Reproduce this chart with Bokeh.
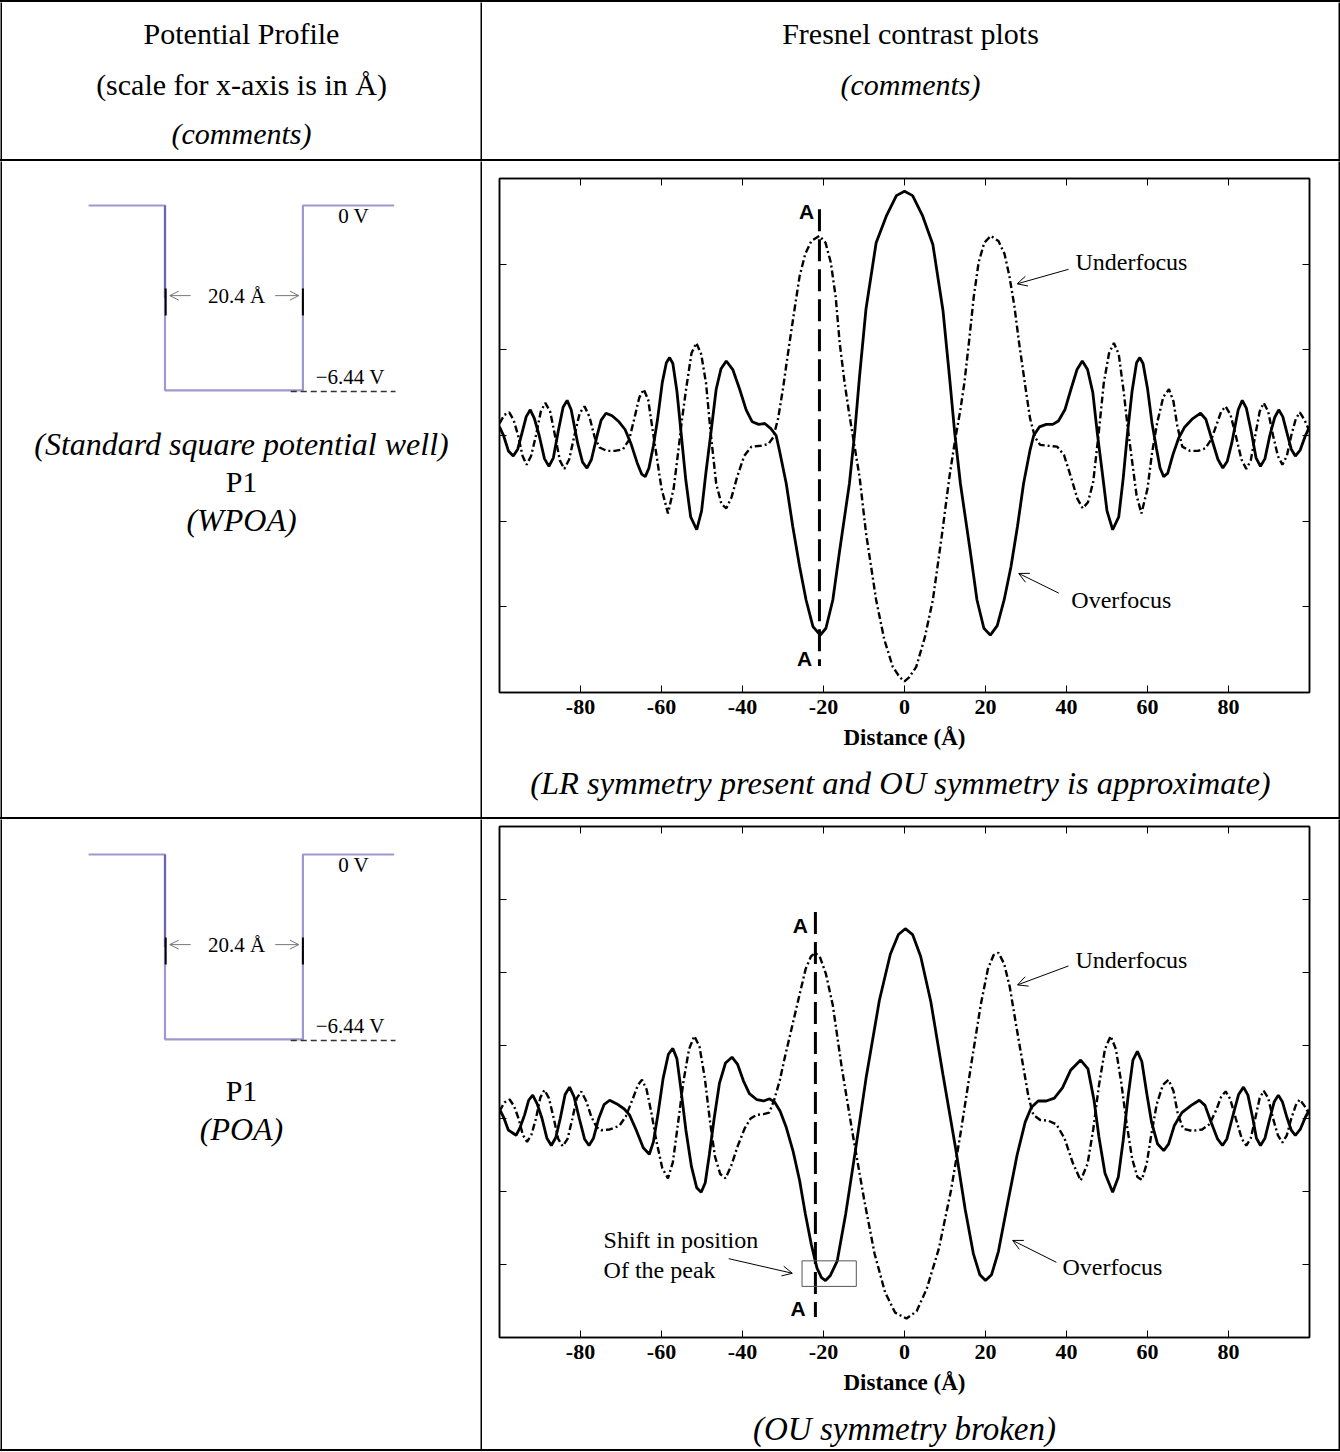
from bokeh.plotting import figure
from bokeh.layouts import column, row
from bokeh.models import Range1d, LinearAxis, FixedTicker, Arrow, OpenHead, Label, BoxAnnotation, Div
from bokeh.embed import file_html
from bokeh.resources import INLINE
from bokeh.core.properties import value

SERIF = "Liberation Serif"
SANS = "Liberation Sans"

# ---------------- data ----------------
X_TICKS = [-80, -60, -40, -20, 0, 20, 40, 60, 80]
X_TICK_LABELS = ["-80", "-60", "-40", "-20", "0", "20", "40", "60", "80"]
X_RANGE = (-100, 100)
Y_RANGE_1 = (-3, 3)
Y_RANGE_2 = (-3, 4)
Y_TICKS_1 = [-2, -1, 0, 1, 2]
Y_TICKS_2 = [-2, -1, 0, 1, 2, 3]

# potential profile (x in Angstrom, V in volt)
WELL_WIDTH = 20.4
WELL_DEPTH = -6.44
WELL_X = [-21.5, -10.2, -10.2, 10.2, 10.2, 23.7]
WELL_V = [0.0, 0.0, -6.44, -6.44, 0.0, 0.0]

# Row 1: WPOA  (solid = overfocus, dash-dot = underfocus)
P1_OVER_X = [-100, -99, -97.8, -96.6, -95.5, -94.5, -93.4, -92.4, -91.4, -90.2, -88.9, -87.8, -86.7, -85.5,
             -84.3, -83.3, -82.3, -80.7, -79.5, -78.4, -77.3, -76.0, -74.9, -73.7, -72.2, -70.5, -69.0,
             -67.5, -66.0, -64.9, -64.0, -63.1, -62.0, -61.0, -59.8, -58.8, -58.0, -57.2, -56.2, -55.1,
             -54.0, -52.8, -51.3, -50.1, -49.0, -47.8, -46.5, -45.3, -44.0, -42.4, -40.7, -39.1, -37.6,
             -36.0, -34.5, -33.0, -31.7, -30.9, -29.2, -27.6, -25.9, -24.3, -22.6, -20.8, -19.4, -17.7,
             -16.0, -13.6, -12.3, -11.1, -9.5, -7.0, -4.5, -2.0, 0.0, 2.0, 4.5, 7.0, 9.5, 11.1, 12.4,
             13.8, 16.2, 17.9, 19.6, 21.2, 22.9, 24.6, 26.3, 27.9, 29.4, 31.0, 31.9, 33.3, 35.0, 36.6,
             38.0, 39.6, 41.1, 42.6, 43.9, 45.2, 46.5, 47.6, 48.8, 50.0, 51.4, 52.9, 54.0, 55.0, 56.2,
             57.3, 58.1, 58.9, 60.0, 61.1, 62.2, 63.1, 64.0, 65.0, 66.3, 67.7, 69.2, 71.0, 73.1, 74.4,
             75.6, 77.4, 78.6, 79.7, 80.8, 82.4, 83.4, 84.4, 85.6, 86.8, 87.9, 89.0, 90.2, 91.4, 92.4,
             93.4, 94.5, 95.5, 96.5, 97.7, 99.0, 100]
P1_OVER_Y = [0.10, 0.0, -0.18, -0.24, -0.16, 0.02, 0.22, 0.30, 0.20, 0.0, -0.27, -0.36, -0.26, 0.05,
             0.33, 0.41, 0.30, -0.09, -0.31, -0.38, -0.28, -0.02, 0.18, 0.26, 0.23, 0.16, 0.07,
             -0.10, -0.32, -0.45, -0.48, -0.38, -0.12, 0.18, 0.62, 0.85, 0.91, 0.84, 0.52, 0.0,
             -0.52, -0.95, -1.10, -0.88, -0.42, 0.03, 0.54, 0.78, 0.87, 0.77, 0.54, 0.30, 0.16,
             0.13, 0.14, 0.08, 0.0, -0.17, -0.56, -1.06, -1.53, -1.92, -2.23, -2.33, -2.25, -1.92,
             -1.34, -0.56, 0.03, 0.69, 1.48, 2.25, 2.56, 2.80, 2.85, 2.80, 2.56, 2.23, 1.46, 0.69, 0.03,
             -0.56, -1.34, -1.92, -2.25, -2.33, -2.22, -1.92, -1.53, -1.06, -0.56, -0.17, 0.0, 0.10, 0.13, 0.13,
             0.17, 0.30, 0.54, 0.77, 0.87, 0.77, 0.50, 0.03, -0.42, -0.88, -1.10, -0.95, -0.50, 0.0, 0.52,
             0.85, 0.91, 0.84, 0.55, 0.15, -0.15, -0.38, -0.48, -0.44, -0.22, -0.03, 0.10, 0.19, 0.26, 0.19,
             0.0, -0.28, -0.38, -0.30, -0.09, 0.30, 0.41, 0.32, 0.05, -0.26, -0.36, -0.27, 0.0, 0.21, 0.30,
             0.22, 0.02, -0.16, -0.24, -0.17, 0.0, 0.10]

P1_UNDER_X = [-100, -98.8, -97.6, -96.5, -95.4, -94.3, -93.3, -92.2, -91.0, -89.8, -88.7, -87.5, -86.3,
              -85.1, -84.0, -82.8, -81.5, -80.2, -79.0, -77.8, -76.5, -75.3, -73.5, -71.5, -69.5, -68.0,
              -66.8, -65.5, -64.4, -63.3, -62.3, -61.3, -60.0, -58.4, -57.0, -55.9, -54.9, -53.9, -52.6,
              -51.4, -50.2, -49.0, -47.9, -46.5, -45.2, -44.0, -42.7, -41.3, -39.6, -37.8, -35.5, -33.6,
              -32.4, -31.2, -30.0, -28.4, -27.0, -25.9, -24.5, -23.0, -21.0, -19.5, -18.2, -17.0, -16.0,
              -14.8, -13.8, -12.6, -11.1, -9.5, -7.0, -5.0, -2.9, -1.2, 0.0, 1.2, 2.9, 5.0, 7.0, 9.3,
              11.1, 12.5, 13.8, 14.8, 15.9, 17.1, 18.3, 19.7, 21.3, 23.2, 24.7, 25.9, 27.1, 28.3, 29.9,
              31.0, 32.2, 33.5, 35.5, 37.7, 39.4, 41.2, 42.7, 44.0, 45.3, 46.6, 48.0, 49.2, 50.5, 51.7,
              52.9, 54.1, 55.1, 56.2, 57.3, 58.5, 60.0, 61.1, 62.4, 63.9, 65.3, 66.4, 67.4, 68.6, 70.5,
              72.5, 74.3, 75.8, 77.0, 78.2, 79.3, 80.5, 81.8, 83.2, 84.4, 85.5, 86.6, 87.7, 88.7, 89.8,
              91.0, 92.2, 93.3, 94.4, 95.5, 96.6, 97.6, 98.8, 100]
P1_UNDER_Y = [0.14, 0.24, 0.27, 0.18, 0.0, -0.24, -0.34, -0.24, 0.0, 0.28, 0.38, 0.28, 0.0,
              -0.29, -0.39, -0.28, 0.0, 0.26, 0.34, 0.22, -0.02, -0.14, -0.18, -0.18, -0.16, -0.05,
              0.18, 0.44, 0.54, 0.42, 0.10, -0.21, -0.62, -0.91, -0.62, -0.20, 0.20, 0.55, 0.96,
              1.08, 0.95, 0.61, 0.05, -0.56, -0.80, -0.85, -0.72, -0.48, -0.24, -0.13, -0.12, -0.10,
              -0.02, 0.20, 0.55, 1.08, 1.52, 1.86, 2.12, 2.27, 2.33, 2.25, 2.02, 1.62, 1.08,
              0.62, 0.30, -0.05, -0.48, -1.14, -1.92, -2.38, -2.70, -2.82, -2.87, -2.82, -2.70, -2.36, -1.92, -1.14,
              -0.48, -0.05, 0.30, 0.62, 1.08, 1.62, 2.02, 2.25, 2.33, 2.27, 2.12, 1.86, 1.52, 1.08, 0.55,
              0.20, -0.02, -0.11, -0.12, -0.13, -0.23, -0.50, -0.74, -0.85, -0.78, -0.54, 0.05, 0.61, 0.96, 1.08,
              0.95, 0.52, 0.10, -0.30, -0.70, -0.91, -0.62, -0.21, 0.15, 0.45, 0.54, 0.40, 0.10, -0.13, -0.18,
              -0.18, -0.15, -0.04, 0.12, 0.28, 0.34, 0.24, 0.0, -0.28, -0.39, -0.29, 0.0, 0.28, 0.38, 0.28,
              0.0, -0.24, -0.34, -0.24, 0.0, 0.19, 0.27, 0.18, 0.05]

# Row 2: POA
P2_OVER_X = [-100, -99, -97.8, -95.9, -94.9, -93.8, -92.8, -91.8, -90.7, -89.5, -88.3, -87.2, -86.1, -85.0,
             -83.8, -82.7, -81.6, -80.3, -79.0, -77.9, -76.8, -75.5, -74.2, -72.8, -71.0, -69.2, -67.9,
             -66.3, -64.5, -63.0, -62.0, -60.9, -59.6, -58.3, -57.2, -56.2, -55.2, -54.0, -52.6, -51.3,
             -50.2, -49.2, -48.2, -47.0, -45.7, -44.2, -42.6, -41.2, -39.8, -38.3, -36.5, -34.8, -33.3,
             -32.0, -30.7, -29.2, -27.5, -25.9, -24.5, -23.0, -21.6, -20.5, -19.5, -18.3, -16.6, -14.5,
             -12.1, -9.5, -6.2, -3.5, -1.5, 0.2, 2.0, 4.0, 6.5, 9.5, 12.6, 15.0, 17.0, 18.6, 20.0, 21.5,
             23.2, 25.5, 27.8, 29.8, 31.3, 33.0, 35.0, 37.0, 39.0, 41.0, 43.5, 45.3, 46.8, 48.0, 49.5,
             51.4, 52.8, 54.0, 55.2, 56.4, 57.5, 58.6, 59.8, 61.0, 62.5, 64.0, 65.2, 66.6, 68.5, 70.8,
             72.8, 74.2, 75.5, 77.3, 78.5, 79.6, 80.9, 82.5, 83.7, 84.8, 86.0, 86.9, 87.9, 89.0, 90.2,
             91.3, 92.3, 93.3, 94.4, 95.5, 96.5, 97.7, 99.0, 100]
P2_OVER_Y = [0.13, 0.02, -0.16, -0.23, -0.12, 0.05, 0.25, 0.32, 0.20, 0.0, -0.27, -0.37, -0.26, 0.0,
             0.33, 0.43, 0.30, 0.0, -0.28, -0.37, -0.27, 0.0, 0.19, 0.25, 0.20, 0.13, 0.05,
             -0.15, -0.40, -0.49, -0.32, 0.05, 0.55, 0.88, 0.96, 0.82, 0.40, -0.15, -0.66, -0.95,
             -1.01, -0.88, -0.50, 0.0, 0.48, 0.76, 0.84, 0.74, 0.52, 0.34, 0.26, 0.24, 0.27,
             0.22, 0.10, -0.12, -0.45, -0.85, -1.30, -1.73, -2.05, -2.18, -2.22, -2.15, -1.95, -1.30,
             -0.43, 0.55, 1.62, 2.25, 2.52, 2.60, 2.52, 2.22, 1.60, 0.60, -0.40, -1.25, -1.85, -2.14, -2.22, -2.14,
             -1.82, -1.15, -0.50, -0.05, 0.15, 0.24, 0.24, 0.28, 0.42, 0.66, 0.80, 0.68, 0.25, -0.25, -0.75,
             -1.01, -0.80, -0.30, 0.30, 0.80, 0.92, 0.78, 0.35, -0.05, -0.35, -0.44, -0.35, -0.10, 0.08, 0.18,
             0.25, 0.18, -0.02, -0.28, -0.37, -0.28, 0.0, 0.33, 0.43, 0.32, 0.0, -0.27, -0.37, -0.27, 0.0,
             0.23, 0.32, 0.23, 0.02, -0.16, -0.23, -0.15, 0.02, 0.12]

P2_UNDER_X = [-100, -98.8, -97.5, -96.4, -95.3, -94.2, -93.2, -92.1, -91.0, -89.9, -88.9, -87.8, -86.6,
              -85.5, -84.4, -83.2, -82.0, -80.9, -79.8, -78.6, -77.3, -76.0, -74.9, -72.8, -70.4, -68.8,
              -67.3, -65.8, -64.8, -63.7, -62.5, -61.3, -59.8, -58.4, -57.2, -56.0, -54.6, -53.2, -51.9,
              -50.6, -49.3, -48.0, -46.8, -45.5, -44.2, -42.8, -41.2, -39.5, -38.0, -36.5, -34.8, -33.4,
              -32.2, -30.8, -29.5, -27.8, -25.9, -24.4, -23.1, -22.0, -20.8, -19.4, -17.7, -15.5, -12.8,
              -10.0, -7.4, -4.8, -2.3, 0.5, 3.0, 5.5, 8.5, 11.5, 14.0, 16.5, 18.8, 20.6, 22.0, 23.2,
              24.6, 26.0, 27.5, 29.2, 30.6, 31.8, 33.5, 35.5, 37.5, 39.5, 41.5, 43.5, 45.2, 46.6, 48.0,
              49.5, 50.9, 52.2, 53.5, 54.8, 56.2, 57.5, 58.6, 59.8, 61.0, 62.3, 63.8, 65.2, 66.4, 67.5,
              68.8, 71.0, 73.5, 75.3, 77.0, 78.2, 79.3, 80.4, 81.8, 83.3, 84.4, 85.5, 86.6, 87.7, 88.7,
              89.8, 91.0, 92.2, 93.3, 94.4, 95.5, 96.6, 97.6, 98.8, 100]
P2_UNDER_Y = [0.10, 0.22, 0.26, 0.17, 0.0, -0.23, -0.32, -0.22, 0.0, 0.29, 0.39, 0.28, 0.0,
              -0.28, -0.38, -0.28, 0.0, 0.28, 0.37, 0.24, 0.02, -0.12, -0.16, -0.15, -0.10, 0.03,
              0.24, 0.46, 0.53, 0.40, 0.08, -0.30, -0.68, -0.82, -0.60, -0.10, 0.50, 0.95, 1.13,
              0.98, 0.55, -0.05, -0.52, -0.76, -0.82, -0.65, -0.38, -0.14, 0.0, 0.05, 0.06, 0.08,
              0.25, 0.52, 0.85, 1.25, 1.70, 2.05, 2.22, 2.27, 2.20, 1.98, 1.55, 0.70, -0.21,
              -1.10, -1.85, -2.38, -2.66, -2.74, -2.64, -2.33, -1.78, -0.98, -0.15, 0.75, 1.55, 2.05, 2.24, 2.27,
              2.12, 1.80, 1.30, 0.75, 0.30, 0.05, -0.02, -0.03, -0.08, -0.27, -0.60, -0.85, -0.62, -0.15, 0.45,
              0.95, 1.13, 0.95, 0.50, -0.05, -0.55, -0.80, -0.84, -0.62, -0.20, 0.20, 0.46, 0.53, 0.38, 0.06,
              -0.14, -0.17, -0.15, -0.08, 0.12, 0.30, 0.37, 0.27, 0.0, -0.28, -0.37, -0.27, 0.0, 0.28, 0.38,
              0.28, 0.0, -0.23, -0.33, -0.23, 0.0, 0.18, 0.26, 0.17, 0.05]

# reference line "A" positions (Angstrom)
A_LINE_1 = -21.0
A_LINE_2 = -22.0

HEAD_LEFT = ["Potential Profile", "(scale for x-axis is in Å)", "(comments)"]
HEAD_RIGHT = ["Fresnel contrast plots", "(comments)"]
CAPTION_1 = ["(Standard square potential well)", "P1", "(WPOA)"]
CAPTION_2 = ["P1", "(POA)"]
COMMENT_1 = "(LR  symmetry present and OU symmetry is approximate)"
COMMENT_2 = "(OU symmetry broken)"

# ---------------- helpers ----------------
BIG = "30px"


def blank_fig(w, h, xr, yr):
    f = figure(width=w, height=h, x_range=xr, y_range=yr, toolbar_location=None,
               output_backend="svg", min_border=0, x_axis_location=None, y_axis_location=None)
    f.grid.visible = False
    f.outline_line_color = None
    f.background_fill_color = "white"
    f.border_fill_color = "white"
    return f


def vbar_fig(h):
    f = blank_fig(2, h, Range1d(0, 1), Range1d(0, 1))
    f.background_fill_color = "black"
    f.border_fill_color = "black"
    return f


def hbar():
    return Div(width=1340, height=2, margin=0, styles={"background-color": "black"})


def put_text(f, x, y, txt, size=BIG, style="normal", font=SERIF, align="center"):
    f.text(x=[x], y=[y], text=[txt], text_font=value(font), text_font_size=value(size),
           text_font_style=style, text_align=align, text_baseline="middle", text_color="black")


def header_cell(w, texts, xs, ys, styles):
    f = blank_fig(w, 157, Range1d(0, w), Range1d(157, 0))
    for t, x, y, s in zip(texts, xs, ys, styles):
        put_text(f, x, y, t, style=s)
    return f


PX_PER_A = 6.76
PX_PER_V = 28.7


def well_cell(h, top_px, captions, cap_py, cap_styles, cap_sizes):
    x0 = -WELL_WIDTH / 2 - 162.5 / PX_PER_A
    y1 = top_px / PX_PER_V
    f = blank_fig(478, h, Range1d(x0, x0 + 478 / PX_PER_A), Range1d(y1 - h / PX_PER_V, y1))
    f.line(WELL_X, WELL_V, line_color="#9d99d0", line_width=2.2)
    f.line([-WELL_WIDTH / 2, -WELL_WIDTH / 2], [0, WELL_DEPTH * 0.5], line_color="#6a65b0", line_width=2.2)
    f.segment(x0=[-WELL_WIDTH / 2 + 0.1, WELL_WIDTH / 2], y0=[-2.89, -2.89],
              x1=[-WELL_WIDTH / 2 + 0.1, WELL_WIDTH / 2], y1=[-3.83, -3.83],
              line_color="black", line_width=2)
    f.add_layout(Arrow(end=OpenHead(size=9, line_width=1, line_color="#777777"),
                       x_start=-6.4, y_start=-3.14, x_end=-9.5, y_end=-3.14,
                       line_color="#777777", line_width=1))
    f.add_layout(Arrow(end=OpenHead(size=9, line_width=1, line_color="#777777"),
                       x_start=6.1, y_start=-3.14, x_end=9.6, y_end=-3.14,
                       line_color="#777777", line_width=1))
    put_text(f, 0.38, -3.14, "20.4 Å", size="21px")
    put_text(f, 17.7, -0.38, "0 V", size="21px")
    put_text(f, 17.2, -5.99, "\u22126.44 V", size="21px")
    f.line([8.4, 23.9], [WELL_DEPTH - 0.04, WELL_DEPTH - 0.04], line_color="#333333",
           line_width=1.4, line_dash="6 4")
    xc = x0 + 239 / PX_PER_A
    for t, py, s, sz in zip(captions, cap_py, cap_styles, cap_sizes):
        put_text(f, xc, y1 - py / PX_PER_V, t, style=s, size=sz)
    return f


def fresnel_fig(h, top, bottom, yr, yticks):
    p = figure(width=856, height=h, x_range=Range1d(*X_RANGE), y_range=Range1d(*yr),
               toolbar_location=None, output_backend="svg",
               min_border_left=17, min_border_right=29, min_border_top=top, min_border_bottom=bottom,
               x_axis_location=None, y_axis_location=None)
    p.grid.visible = False
    p.outline_line_color = "black"
    p.outline_line_width = 1.5
    p.background_fill_color = "white"
    p.border_fill_color = "white"

    bx = LinearAxis(ticker=FixedTicker(ticks=X_TICKS, minor_ticks=[]), axis_label="Distance (Å)",
                    major_tick_in=7, major_tick_out=0, minor_tick_in=0, minor_tick_out=0,
                    major_label_standoff=7, axis_label_standoff=8,
                    major_label_overrides=dict(zip(X_TICKS, X_TICK_LABELS)),
                    major_label_text_font=SERIF, major_label_text_font_style="bold",
                    major_label_text_font_size="22px", major_label_text_color="black",
                    axis_label_text_font=SERIF, axis_label_text_color="black",
                    axis_label_text_font_style="bold", axis_label_text_font_size="23px",
                    axis_line_width=1.5, axis_line_color="black", major_tick_line_color="black")
    p.add_layout(bx, "below")

    def hidden(ticks):
        return LinearAxis(ticker=FixedTicker(ticks=ticks, minor_ticks=[]),
                          major_tick_in=7, major_tick_out=0, minor_tick_in=0, minor_tick_out=0,
                          major_label_standoff=0, major_label_text_font_size="0px",
                          major_label_overrides={t: "" for t in ticks}, axis_line_width=1.5,
                          axis_line_color="black", major_tick_line_color="black")

    p.add_layout(hidden(X_TICKS), "above")
    p.add_layout(hidden(yticks), "left")
    p.add_layout(hidden(yticks), "right")
    return p


def add_curves(p, ox, oy, ux, uy):
    p.line(ux, uy, line_color="black", line_width=2.4, line_dash="7 3 2 3")
    p.line(ox, oy, line_color="black", line_width=2.8)


def label(p, x, y, txt, size="24px", font=SERIF, style="normal", align="left"):
    p.add_layout(Label(x=x, y=y, text=txt, text_font=font, text_font_size=size,
                       text_font_style=style, text_align=align, text_baseline="middle",
                       text_color="black"))


def arrow(p, xs, ys, xe, ye, color="black"):
    p.add_layout(Arrow(end=OpenHead(size=10, line_width=1, line_color=color),
                       x_start=xs, y_start=ys, x_end=xe, y_end=ye, line_color=color, line_width=1))


def comment_fig(h, ty, txt, size):
    f = blank_fig(856, h, Range1d(0, 856), Range1d(h, 0))
    put_text(f, 428, ty, txt, style="italic", size=size)
    return f


# ---------------- header ----------------
hdrL = header_cell(478, HEAD_LEFT, [239, 239, 239], [31, 82, 131], ["normal", "normal", "italic"])
hdrR = header_cell(856, HEAD_RIGHT, [428, 428], [31, 82], ["normal", "italic"])

# ---------------- row 1 ----------------
wellL1 = well_cell(656, 44, CAPTION_1, [282, 320, 358], ["italic", "normal", "italic"],
                   ["32px", "30px", "32px"])

p1 = fresnel_fig(599, 17, 68, Y_RANGE_1, Y_TICKS_1)
add_curves(p1, P1_OVER_X, P1_OVER_Y, P1_UNDER_X, P1_UNDER_Y)
p1.line([A_LINE_1, A_LINE_1], [2.64, -2.69], line_color="black", line_width=3, line_dash="22 8")
label(p1, -24.2, 2.61, "A", size="21px", font=SANS, style="bold", align="center")
label(p1, -24.7, -2.60, "A", size="21px", font=SANS, style="bold", align="center")
label(p1, 42.2, 2.02, "Underfocus")
label(p1, 41.2, -1.92, "Overfocus")
arrow(p1, 40.5, 1.94, 27.8, 1.77)
arrow(p1, 38.1, -1.84, 28.2, -1.61)
com1 = comment_fig(57, 22, COMMENT_1, "32.5px")

# ---------------- row 2 ----------------
wellL2 = well_cell(630, 35, CAPTION_2, [271, 309], ["normal", "italic"], ["30px", "32px"])

p2 = fresnel_fig(586, 7, 68, Y_RANGE_2, Y_TICKS_2)
add_curves(p2, P2_OVER_X, P2_OVER_Y, P2_UNDER_X, P2_UNDER_Y)
p2.line([A_LINE_2, A_LINE_2], [2.83, -2.72], line_color="black", line_width=3, line_dash="22 8")
label(p2, -25.7, 2.65, "A", size="21px", font=SANS, style="bold", align="center")
label(p2, -26.3, -2.60, "A", size="21px", font=SANS, style="bold", align="center")
label(p2, 42.2, 2.17, "Underfocus")
label(p2, 39.0, -2.04, "Overfocus")
arrow(p2, 40.5, 2.09, 27.9, 1.83)
arrow(p2, 37.5, -1.97, 26.7, -1.67)
label(p2, -74.3, -1.67, "Shift in position", size="24px")
label(p2, -74.3, -2.08, "Of the peak", size="24px")
arrow(p2, -43.4, -1.92, -27.7, -2.12)
p2.add_layout(BoxAnnotation(left=-25.3, right=-11.9, bottom=-2.30, top=-1.95,
                            fill_alpha=0, line_color="#555555", line_alpha=1, line_width=1))
com2 = comment_fig(44, 23, COMMENT_2, "33px")

# ---------------- table layout ----------------
layout = column(
    hbar(),
    row(vbar_fig(157), hdrL, vbar_fig(157), hdrR, vbar_fig(157)),
    hbar(),
    row(vbar_fig(656), wellL1, vbar_fig(656), column(p1, com1), vbar_fig(656)),
    hbar(),
    row(vbar_fig(630), wellL2, vbar_fig(630), column(p2, com2), vbar_fig(630)),
    hbar(),
)

open("out.html", "w").write(file_html(layout, INLINE, "Fresnel contrast"))
